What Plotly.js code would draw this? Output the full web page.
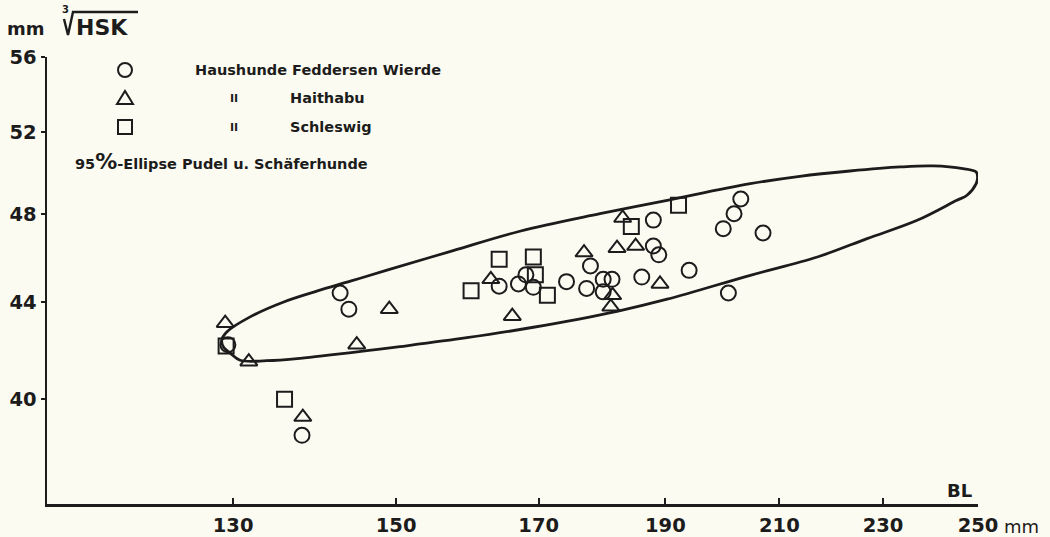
<!DOCTYPE html>
<html>
<head>
<meta charset="utf-8">
<script src="https://cdn.plot.ly/plotly-3.0.1.min.js"></script>
<style>html,body{margin:0;padding:0;background:#fcfbf1;}</style>
</head>
<body>
<div id="chart" style="width:1050px;height:537px;"></div>
<script>
// ---- data (BL in mm, cube root of HSK in mm) ----
const circleBL  = [129.4,142.8,143.9,138.1,164.2,167.0,168.1,169.2,174.2,177.3,177.9,179.9,181.3,179.9,188.0,188.0,188.9,186.1,194.0,199.9,201.8,203.0,200.8,207.0];
const circleHSK = [42.2,44.4,43.7,38.6,44.7,44.8,45.2,44.65,44.9,44.6,45.6,45.0,45.0,44.45,47.7,46.5,46.1,45.1,45.4,47.3,48.0,48.7,44.4,47.1];

const triBL  = [129.1,131.8,149.1,144.9,138.2,163.0,166.1,176.9,181.4,181.1,182.1,185.1,183.0,189.1];
const triHSK = [43.1,41.5,43.7,42.2,39.3,45.0,43.4,46.2,44.3,43.8,46.4,46.5,47.8,44.8];

const sqBL  = [129.2,136.0,160.2,164.2,169.2,169.5,171.3,184.4,192.2];
const sqHSK = [42.15,40.0,44.5,45.9,46.0,45.2,44.3,47.4,48.4];

// 95%-Ellipse Pudel u. Schaeferhunde (outline)
const ellBL  = [128.7,129.3,131.95,135.9,139.9,144.1,148.8,157.7,167.2,179.4,190.3,204.7,213.8,223.4,233.5,240.3,246.7,249.6,249.9,249.6,247.6,245.4,237.0,226.8,217.1,204.7,190.3,182.1,169.2,159.6,150.5,146.2,141.9,137.9,133.9,130.8,129.7,128.9,128.7];
const ellHSK = [42.39,42.74,43.37,44.01,44.48,44.92,45.41,46.29,47.18,48.00,48.64,49.44,49.80,50.06,50.26,50.31,50.18,50.01,49.77,49.44,48.88,48.64,47.69,46.84,46.00,45.18,44.13,43.61,42.93,42.49,42.12,41.95,41.79,41.64,41.54,41.56,41.84,42.11,42.39];

const xTicks = [130,150,170,190,210,230,250];
const yTicks = [40,44,48,52,56];

// ---- layout helpers ----
const L = 47, T = 57, W = 931, H = 447;
const fx = p => (p - L) / W;
const fy = p => (T + H - p) / H;
const INK = '#1c1c1c';
const FONT = 'DejaVu Sans';

const mk = (sym) => ({symbol: sym, size: 15, color: INK, line: {color: INK, width: 2}});

const traces = [
  {x: ellBL, y: ellHSK, mode: 'lines', line: {color: INK, width: 2.8, shape: 'spline', smoothing: 1}, hoverinfo: 'skip', showlegend: false},
  {x: circleBL, y: circleHSK, mode: 'markers', marker: mk('circle-open'), showlegend: false, cliponaxis: false},
  {x: triBL, y: triHSK, mode: 'markers', marker: mk('triangle-up-open'), showlegend: false, cliponaxis: false},
  {x: sqBL, y: sqHSK, mode: 'markers', marker: mk('square-open'), showlegend: false, cliponaxis: false}
];

const ann = (text, x, y, size, opts) => Object.assign({
  text: text, xref: 'paper', yref: 'paper', x: fx(x), y: fy(y),
  xanchor: 'left', yanchor: 'middle', showarrow: false,
  font: {family: FONT, size: size, color: INK, weight: 'bold'}
}, opts || {});

const P = (x, y) => fx(x).toFixed(5) + ',' + fy(y).toFixed(5);

const layout = {
  width: 1050, height: 537,
  margin: {l: L, r: 1050 - L - W, t: T, b: 537 - T - H},
  paper_bgcolor: '#fcfbf1', plot_bgcolor: '#fcfbf1',
  showlegend: false,
  xaxis: {
    type: 'log', range: [Math.log10(110.4), Math.log10(250)],
    tickvals: xTicks, ticktext: xTicks.map(String),
    ticks: 'inside', ticklen: 6, tickwidth: 2, tickcolor: INK,
    showline: true, linewidth: 2.5, linecolor: INK,
    showgrid: false, zeroline: false, ticklabelstandoff: 2,
    tickfont: {family: FONT, size: 19.5, color: INK, weight: 'bold'}
  },
  yaxis: {
    type: 'log', range: [Math.log10(36.08), Math.log10(56)],
    tickvals: yTicks, ticktext: yTicks.map(String),
    ticks: 'outside', ticklen: 4, tickwidth: 2, tickcolor: INK,
    showline: true, linewidth: 2.5, linecolor: INK,
    showgrid: false, zeroline: false, ticklabelstandoff: 0,
    tickfont: {family: FONT, size: 19.5, color: INK, weight: 'bold'}
  },
  annotations: [
    ann('mm', 5, 29, 18),
    ann('3', 60, 10, 10),
    ann('HSK', 74, 28, 22),
    ann('BL', 945, 490, 18),
    ann('mm', 1002, 526, 18, {font: {family: FONT, size: 18, color: INK, weight: 'normal'}}),
    ann('Haushunde Feddersen Wierde', 193, 70, 14.5),
    ann('II', 228, 98, 11),
    ann('Haithabu', 288, 98, 14.5),
    ann('II', 228, 127, 11),
    ann('Schleswig', 288, 127, 14.5),
    ann('95<span style="font-size:22px">%</span>-Ellipse Pudel u. Sch\u00e4ferhunde', 73, 161, 14.5)
  ],
  shapes: [
    // root sign with overline
    {type: 'path', xref: 'paper', yref: 'paper',
     path: 'M' + P(64, 19) + ' L' + P(68, 35) + ' L' + P(73, 12) + ' L' + P(138, 12),
     line: {color: INK, width: 2.4}},
    // legend keys
    {type: 'circle', xref: 'paper', yref: 'paper', xsizemode: 'pixel', ysizemode: 'pixel',
     xanchor: fx(125), yanchor: fy(70), x0: -7, x1: 7, y0: -7, y1: 7, line: {color: INK, width: 2}},
    {type: 'path', xref: 'paper', yref: 'paper', xsizemode: 'pixel', ysizemode: 'pixel',
     xanchor: fx(125), yanchor: fy(98), path: 'M-8,-6 L8,-6 L0,7 Z', line: {color: INK, width: 2}},
    {type: 'rect', xref: 'paper', yref: 'paper', xsizemode: 'pixel', ysizemode: 'pixel',
     xanchor: fx(125), yanchor: fy(127), x0: -7, x1: 7, y0: -7, y1: 7, line: {color: INK, width: 2}}
  ]
};

Plotly.newPlot('chart', traces, layout, {displayModeBar: false, staticPlot: true});
</script>
</body>
</html>
